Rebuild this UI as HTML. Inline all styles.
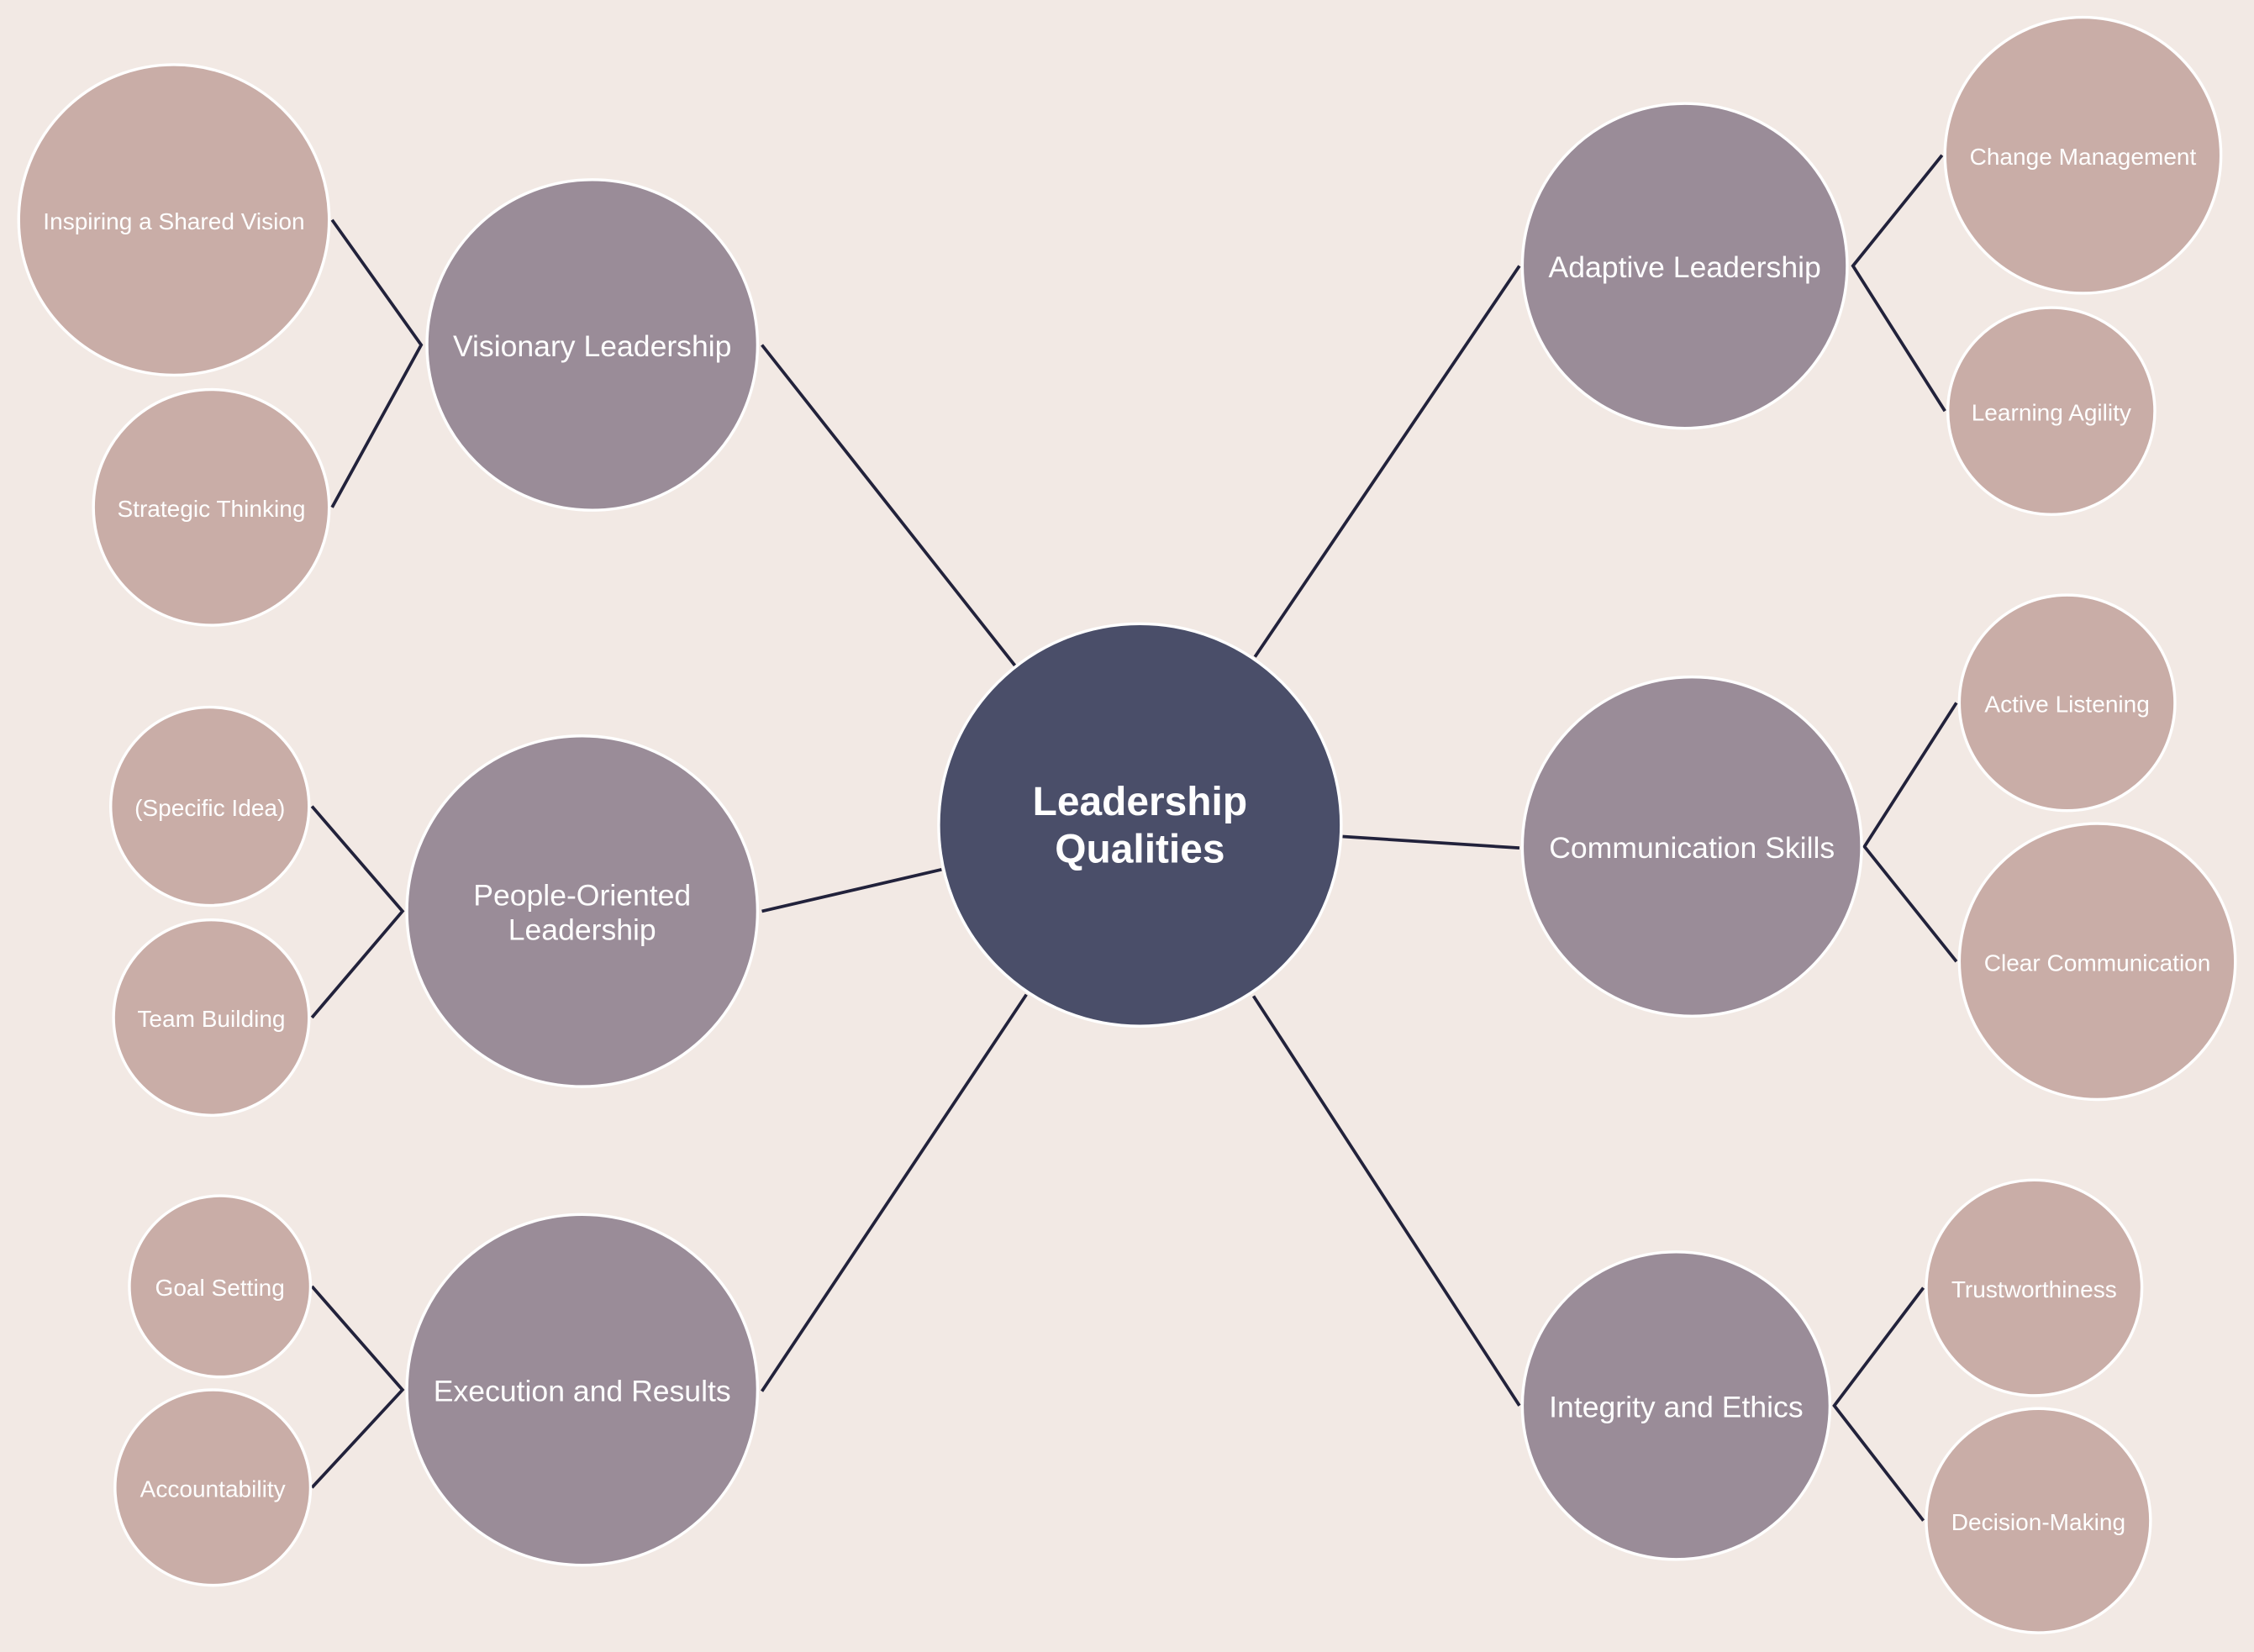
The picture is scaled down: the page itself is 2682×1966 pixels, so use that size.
<!DOCTYPE html>
<html><head><meta charset="utf-8"><style>
html,body{margin:0;padding:0;background:#f2e9e4;}
svg{display:block;}
text{font-family:"Liberation Sans",Arial,sans-serif;fill:#fff;text-anchor:middle;dominant-baseline:central;}
.b{font-size:20.8px;}
.l{font-size:16.4px;}
</style></head><body>
<svg width="2682" height="1966" viewBox="0 0 1568 1149.4" xmlns="http://www.w3.org/2000/svg">
<rect width="1568" height="1150" fill="#f2e9e4"/>
<g stroke="#22223b" stroke-width="2.2" fill="none">
<line x1="706" y1="463" x2="530" y2="240"/>
<line x1="873" y1="457" x2="1057" y2="185"/>
<line x1="655" y1="605" x2="530" y2="634"/>
<line x1="934" y1="582" x2="1057" y2="590"/>
<line x1="714" y1="692" x2="530" y2="968"/>
<line x1="872" y1="693" x2="1057" y2="978"/>
<polyline points="231,153 293,240 231,353"/>
<polyline points="217,561 280,634 217,708"/>
<polyline points="217,895 280,967 217,1035"/>
<polyline points="1351,108 1289,185 1353,286"/>
<polyline points="1361,489 1297,589 1361,669"/>
<polyline points="1338,896 1276,978 1338,1058"/>
</g>
<g stroke="#fff" stroke-width="2">
<circle cx="793" cy="574" r="140" fill="#4a4e69"/>
<g fill="#9a8c98">
<circle cx="412" cy="240" r="115"/>
<circle cx="405" cy="634" r="122"/>
<circle cx="405" cy="967" r="122"/>
<circle cx="1172" cy="185" r="113"/>
<circle cx="1177" cy="589" r="118"/>
<circle cx="1166" cy="978" r="107"/>
</g>
<g fill="#c9ada7">
<circle cx="121" cy="153" r="108"/>
<circle cx="147" cy="353" r="82"/>
<circle cx="146" cy="561" r="69"/>
<circle cx="147" cy="708" r="68"/>
<circle cx="153" cy="895" r="63"/>
<circle cx="148" cy="1035" r="68"/>
<circle cx="1449" cy="108" r="96"/>
<circle cx="1427" cy="286" r="72"/>
<circle cx="1438" cy="489" r="75"/>
<circle cx="1459" cy="669" r="96"/>
<circle cx="1415" cy="896" r="75"/>
<circle cx="1418" cy="1058" r="78"/>
</g>
</g>
<text x="793" y="558" font-size="28" font-weight="bold">Leadership</text>
<text x="793" y="591" font-size="28" font-weight="bold">Qualities</text>
<text class="b" x="412" y="241">Visionary Leadership</text>
<text class="b" x="405" y="623">People-Oriented</text>
<text class="b" x="405" y="647">Leadership</text>
<text class="b" x="405" y="968">Execution and Results</text>
<text class="b" x="1172" y="186">Adaptive Leadership</text>
<text class="b" x="1177" y="590">Communication Skills</text>
<text class="b" x="1166" y="979">Integrity and Ethics</text>
<text class="l" x="121" y="154">Inspiring a Shared Vision</text>
<text class="l" x="147" y="354">Strategic Thinking</text>
<text class="l" x="146" y="562">(Specific Idea)</text>
<text class="l" x="147" y="709">Team Building</text>
<text class="l" x="153" y="896">Goal Setting</text>
<text class="l" x="148" y="1036">Accountability</text>
<text class="l" x="1449" y="109">Change Management</text>
<text class="l" x="1427" y="287">Learning Agility</text>
<text class="l" x="1438" y="490">Active Listening</text>
<text class="l" x="1459" y="670">Clear Communication</text>
<text class="l" x="1415" y="897">Trustworthiness</text>
<text class="l" x="1418" y="1059">Decision-Making</text>
</svg>
</body></html>
